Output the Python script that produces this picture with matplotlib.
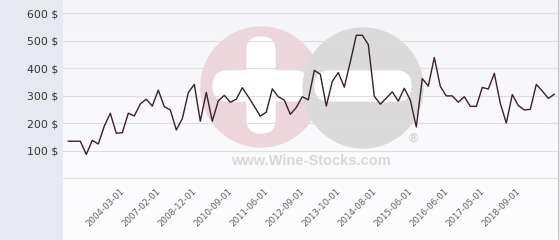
import matplotlib
matplotlib.use("Agg")
import matplotlib.pyplot as plt
import numpy as np
from matplotlib.patches import Circle, FancyBboxPatch

# monthly-ish price points ($)
prices = [134, 134, 134, 86, 137, 124, 189, 236, 163, 165,
          236, 226, 270, 287, 262, 320, 260, 248, 175, 216,
          311, 341, 207, 312, 207, 281, 301, 276, 287, 329,
          296, 261, 225, 240, 325, 296, 284, 232, 257, 296,
          285, 392, 378, 262, 352, 384, 331, 423, 520, 520,
          486, 298, 269, 291, 314, 280, 327, 284, 186, 362,
          335, 439, 334, 299, 299, 276, 296, 261, 261, 330,
          324, 381, 272, 200, 304, 264, 248, 250, 341, 317,
          290, 305]

tick_labels = ["2004-03-01", "2007-02-01", "2008-12-01", "2010-09-01",
               "2011-06-01", "2012-09-01", "2013-10-01", "2014-08-01",
               "2015-06-01", "2016-06-01", "2017-05-01", "2018-09-01"]
y_values = [0, 100, 200, 300, 400, 500, 600]
y_labels = ["", "100 $", "200 $", "300 $", "400 $", "500 $", "600 $"]

W, H = 560, 240
fig = plt.figure(figsize=(W / 100, H / 100), dpi=100)
fig.patch.set_facecolor("#e6eaee")

ax = fig.add_axes([63 / W, 0, (558 - 63) / W, 1])

# light gradient background of the plot panel
grad = np.linspace(0, 1, 100).reshape(-1, 1)
ax.imshow(grad, extent=[0, 1, 0, 1], transform=ax.transAxes, aspect="auto",
          cmap=matplotlib.colors.LinearSegmentedColormap.from_list("bg", ["#f5f5f9", "#fdfdfe"]),
          zorder=0.1)


def px(x, y):
    # pixel (from top-left) to inches for dpi_scale_trans
    return x / 100, (H - y) / 100


# watermark logo
tr = fig.dpi_scale_trans
ax.add_patch(Circle(px(261, 87), 0.60, color="#ecd6dc", transform=tr, zorder=0.2))
ax.add_patch(FancyBboxPatch(px(247, 133), 0.28, 0.96, boxstyle="round,pad=0,rounding_size=0.14",
                            color="white", transform=tr, zorder=0.25))
ax.add_patch(FancyBboxPatch(px(213, 101), 0.96, 0.30, boxstyle="round,pad=0,rounding_size=0.15",
                            color="white", transform=tr, zorder=0.25))
ax.add_patch(Circle(px(363, 88), 0.60, color="#dadada", transform=tr, zorder=0.3))
ax.add_patch(FancyBboxPatch(px(315, 101), 0.96, 0.30, boxstyle="round,pad=0,rounding_size=0.15",
                            color="white", transform=tr, zorder=0.35))
ax.text(*px(311, 161), "www.Wine-Stocks.com", transform=tr, ha="center", va="center",
        fontsize=10.5, fontweight="bold", family="Liberation Sans", color="#d8d8d8", zorder=0.4)
ax.text(*px(413, 139), "®", transform=tr, ha="center", va="center",
        fontsize=9, fontweight="bold", family="Liberation Sans", color="#d2d2d2", zorder=0.4)

x = np.arange(len(prices))
ax.plot(x, prices, color="#3a1f2c", lw=1.0, zorder=3)

ax.set_xlim((63 - 68.3) / 6, (558 - 68.3) / 6)
ax.set_ylim((178 - 240) / 0.2745, 178 / 0.2745)

ax.set_yticks(y_values)
ax.set_yticklabels(y_labels)
ax.tick_params(axis="y", length=0, pad=3.5, labelsize=7.8, labelcolor="#333333")
ax.set_xticks([])
ax.yaxis.grid(True, color="#dedede", lw=0.8)
ax.set_axisbelow(True)
for g in ax.get_ygridlines():
    g.set_zorder(0.5)

for s in ["top", "left", "bottom"]:
    ax.spines[s].set_visible(False)
ax.spines["right"].set_color("#c8c8c8")
ax.spines["right"].set_linewidth(0.8)

# rotated category labels, every sixth point
tick_pos = range(9, len(prices), 6)
for pos, lab in zip(tick_pos, tick_labels):
    ax.text(pos + 0.1, 0.21, lab, transform=ax.get_xaxis_transform(), rotation=45,
            ha="right", va="center", rotation_mode="anchor",
            fontsize=6.2, color="#606060")

fig.savefig("out.png", dpi=100, facecolor=fig.get_facecolor())
